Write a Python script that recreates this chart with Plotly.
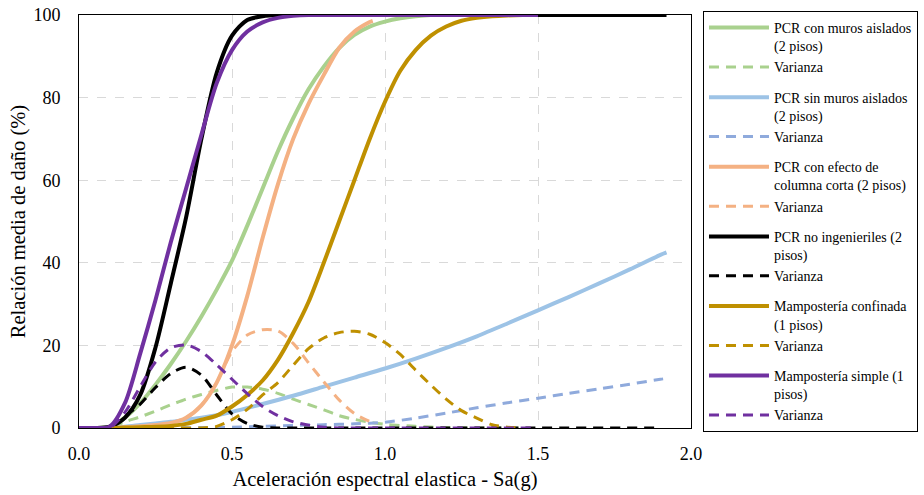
import plotly.graph_objects as go

# ---------------- data ----------------
x_green = [0, 0.05, 0.1, 0.15, 0.2, 0.25, 0.3, 0.35, 0.4, 0.45, 0.5, 0.55, 0.6, 0.65, 0.7,
           0.75, 0.8, 0.85, 0.9, 0.95, 1.0, 1.05, 1.1, 1.15, 1.2, 1.3, 1.4, 1.5]
y_green = [0, 0, 0.3, 2.5, 6, 10.5, 15.5, 21, 27, 33.5, 40.5, 49, 58, 67, 75,
           82, 87.5, 92, 95.2, 97.2, 98.4, 99.2, 99.7, 100, 100, 100, 100, 100]
x_green_v = [0, 0.05, 0.1, 0.15, 0.2, 0.25, 0.3, 0.35, 0.4, 0.45, 0.5, 0.55, 0.6, 0.65, 0.7,
             0.75, 0.8, 0.85, 0.9, 0.95, 1.0, 1.1, 1.2, 1.3, 1.45]
y_green_v = [0, 0, 0, 1.5, 2.7, 4.1, 5.6, 7, 8.1, 9.1, 9.9, 9.9, 9.4, 8.4, 7,
             5.7, 4.4, 3, 2.1, 1.4, 0.9, 0.4, 0.1, 0, 0]

x_blue = [0, 0.05, 0.1, 0.15, 0.2, 0.25, 0.3, 0.35, 0.4, 0.45, 0.5, 0.6, 0.7, 0.8, 0.9,
          1.0, 1.1, 1.2, 1.3, 1.4, 1.5, 1.6, 1.7, 1.8, 1.9, 1.92]
y_blue = [0, 0, 0, 0.3, 0.7, 1.1, 1.5, 2, 2.5, 3.1, 3.9, 5.8, 7.8, 10, 12.2,
          14.4, 16.8, 19.4, 22.2, 25.3, 28.5, 31.7, 35.0, 38.4, 41.9, 42.5]
x_blue_v = [0, 0.1, 0.2, 0.3, 0.4, 0.5, 0.6, 0.7, 0.8, 0.9, 1.0, 1.1, 1.2, 1.3, 1.4,
            1.5, 1.6, 1.7, 1.8, 1.9, 1.92]
y_blue_v = [0, 0, 0, 0.05, 0.1, 0.2, 0.4, 0.6, 0.8, 1.0, 1.4, 2.4, 3.6, 4.9, 6.1,
            7.2, 8.4, 9.5, 10.6, 11.8, 12.0]

x_orange = [0, 0.05, 0.1, 0.15, 0.2, 0.25, 0.3, 0.35, 0.4, 0.45, 0.5, 0.55, 0.6, 0.65,
            0.7, 0.75, 0.8, 0.85, 0.9, 0.95, 0.96]
y_orange = [0, 0, 0, 0.2, 0.4, 0.7, 1.2, 2.5, 5.5, 11, 20, 32, 46, 59,
            70, 78.5, 85.5, 92, 96, 98.3, 98.6]
x_orange_v = [0.3, 0.35, 0.4, 0.45, 0.5, 0.55, 0.6, 0.65, 0.7, 0.75, 0.8, 0.85, 0.9,
              0.95, 0.97]
y_orange_v = [1.2, 2.5, 5.5, 11, 18.5, 22.5, 23.8, 23.5, 20.5, 15.8, 11.2, 6.8, 3.5,
              1.6, 1.2]

x_black = [0, 0.05, 0.1, 0.15, 0.2, 0.25, 0.3, 0.35, 0.4, 0.45, 0.5, 0.55, 0.6, 0.65,
           0.7, 0.8, 1.0, 1.5, 1.92]
y_black = [0, 0, 0.3, 2.5, 8, 19.5, 35, 51, 70, 86, 95, 98.8, 99.7, 100,
           100, 100, 100, 100, 100]
x_black_v = [0, 0.05, 0.1, 0.15, 0.2, 0.25, 0.3, 0.35, 0.4, 0.45, 0.5, 0.55, 0.6, 0.65,
             0.7, 1.0, 1.5, 1.9]
y_black_v = [0, 0, 0, 2.8, 5.8, 9.8, 13.2, 14.7, 12.8, 8, 3.4, 1.1, 0.2, 0,
             0, 0, 0, 0]

x_gold = [0, 0.05, 0.1, 0.15, 0.2, 0.25, 0.3, 0.35, 0.4, 0.45, 0.5, 0.55, 0.6, 0.65,
          0.7, 0.75, 0.8, 0.85, 0.9, 0.95, 1.0, 1.05, 1.1, 1.15, 1.2, 1.25, 1.3, 1.35,
          1.4, 1.45, 1.5]
y_gold = [0, 0, 0, 0.1, 0.2, 0.3, 0.5, 1, 2, 3, 5.2, 8, 11.5, 16.5,
          23, 30.5, 40, 50, 60, 70, 79, 86.5, 91.5, 95, 97.2, 98.6, 99.3, 99.7,
          99.9, 100, 100]
x_gold_v = [0, 0.1, 0.2, 0.3, 0.4, 0.45, 0.5, 0.55, 0.6, 0.65, 0.7, 0.75, 0.8, 0.85,
            0.9, 0.95, 1.0, 1.05, 1.1, 1.15, 1.2, 1.25, 1.3, 1.35, 1.4, 1.45]
y_gold_v = [0, 0, 0, 0, 0, 0.4, 2, 4.5, 8, 11, 15.2, 19.2, 21.8, 23.1,
            23.4, 22.7, 20.7, 17.8, 14, 10.4, 7, 4.2, 2.4, 0.8, 0.2, 0]

x_purple = [0, 0.05, 0.1, 0.15, 0.2, 0.25, 0.3, 0.35, 0.4, 0.45, 0.5, 0.55, 0.6, 0.65,
            0.7, 0.75, 0.8, 1.0, 1.5]
y_purple = [0, 0, 0.3, 6, 18, 31, 45, 58, 71, 83.5, 91.5, 96, 98.2, 99.3,
            99.8, 100, 100, 100, 100]
x_purple_v = [0, 0.05, 0.1, 0.15, 0.2, 0.25, 0.3, 0.35, 0.4, 0.45, 0.5, 0.55, 0.6, 0.65,
              0.7, 0.75, 0.8, 0.85, 1.0, 1.5]
y_purple_v = [0, 0, 0, 3.8, 10, 16, 19.4, 20.1, 18.5, 15.3, 11.8, 8.3, 5.2, 3,
              1.5, 0.7, 0.2, 0, 0, 0]

names = ["PCR con muros aislados<br>(2 pisos)", "PCR sin muros aislados<br>(2 pisos)",
         "PCR con efecto de<br>columna corta (2 pisos)", "PCR no ingenieriles (2<br>pisos)",
         "Mampostería confinada<br>(1 pisos)", "Mampostería simple (1<br>pisos)"]
var_name = "Varianza"
x_ticks = [0.0, 0.5, 1.0, 1.5, 2.0]
x_ticklabels = ["0.0", "0.5", "1.0", "1.5", "2.0"]
y_ticks = [0, 20, 40, 60, 80, 100]

series = [
    (x_green, y_green, x_green_v, y_green_v, "#a9d18e", "#a9d18e"),
    (x_blue, y_blue, x_blue_v, y_blue_v, "#9dc3e6", "#8faadc"),
    (x_orange, y_orange, x_orange_v, y_orange_v, "#f4b183", "#f4b183"),
    (x_black, y_black, x_black_v, y_black_v, "#000000", "#000000"),
    (x_gold, y_gold, x_gold_v, y_gold_v, "#bf9000", "#bf9000"),
    (x_purple, y_purple, x_purple_v, y_purple_v, "#7030a0", "#7030a0"),
]

FONT = "Liberation Serif"

fig = go.Figure()
for i, (xs, ys, xv, yv, c1, c2) in enumerate(series):
    grp = f"g{i}"
    fig.add_trace(go.Scatter(x=xs, y=ys, mode="lines", name=names[i], legendgroup=grp,
                             line=dict(color=c1, width=4, shape="spline", smoothing=0.8)))
    fig.add_trace(go.Scatter(x=xv, y=yv, mode="lines", name=var_name, legendgroup=grp,
                             line=dict(color=c2, width=3, dash="10px,7px", shape="spline",
                                       smoothing=0.8)))

grid = dict(showgrid=True, gridcolor="#d9d9d9", griddash="dash", gridwidth=1,
            showline=True, linecolor="black", linewidth=1, mirror=True,
            zeroline=False, ticks="", automargin=False, ticklabeloverflow="allow",
            tickfont=dict(family=FONT, size=18, color="black"))

fig.update_layout(
    width=924, height=495,
    margin=dict(l=79, r=233, t=15, b=67, autoexpand=False),
    paper_bgcolor="white", plot_bgcolor="white",
    font=dict(family=FONT, color="black"),
    xaxis=dict(range=[0, 2.0], tickvals=x_ticks, ticktext=x_ticklabels,
               ticklabelstandoff=9,
               title=dict(text="Aceleración espectral elastica - Sa(g)",
                          font=dict(family=FONT, size=20.5), standoff=9), **grid),
    yaxis=dict(range=[0, 100], tickvals=y_ticks, ticklabelstandoff=14,
               title=dict(text="Relación media de daño (%)",
                          font=dict(family=FONT, size=20.5), standoff=2), **grid),
    legend=dict(x=1.0196, y=1.0097, xanchor="left", yanchor="top",
                bordercolor="black", borderwidth=1, bgcolor="white",
                font=dict(family=FONT, size=14, color="black"),
                traceorder="grouped", tracegroupgap=9, itemwidth=60,
                valign="top", maxheight=480),
    showlegend=True,
)

# remove the default 8px page margin so the figure fills the window
fig.write_html("out.html", config={"displayModeBar": False},
               post_script="document.body.style.margin='0';document.body.style.overflow='hidden';")
